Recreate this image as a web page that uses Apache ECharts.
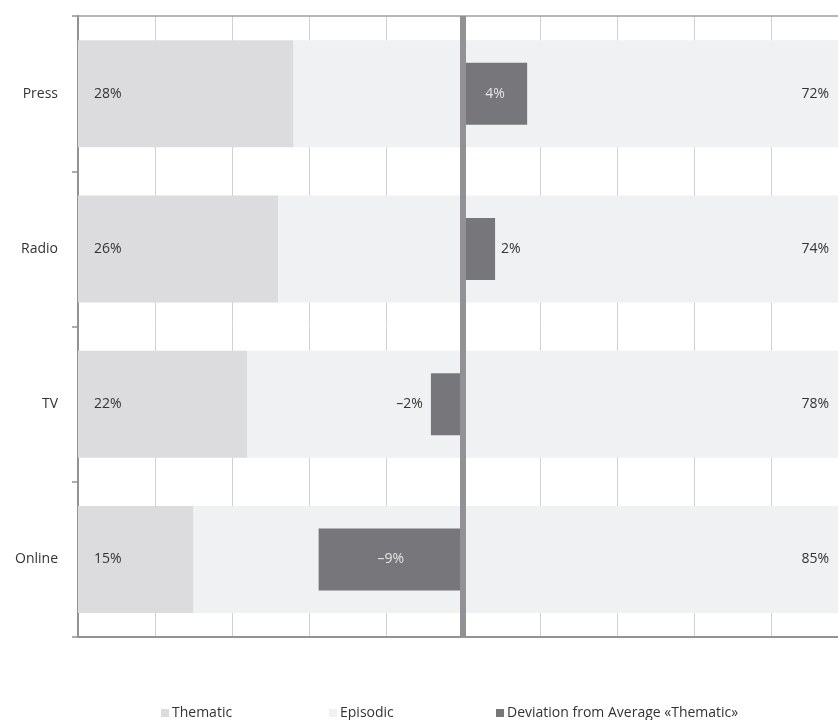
<!DOCTYPE html>
<html>
<head>
<meta charset="utf-8">
<title>Thematic vs. episodic framing by media type</title>
<script src="https://cdn.jsdelivr.net/npm/echarts@6/dist/echarts.min.js"></script>
<style>
  html, body { margin: 0; padding: 0; background: #ffffff; }
  #chart { width: 838px; height: 720px; }
</style>
</head>
<body>
<div id="chart"></div>
<script>
// Media types, top to bottom
const categories = ['Press', 'Radio', 'TV', 'Online'];
// Share of thematic and episodic framing (percent, sums to 100)
const thematic = [28, 26, 22, 15];
const episodic = [72, 74, 78, 85];
// Deviation of each medium's thematic share from the average (percentage points)
const deviation = [4, 2, -2, -9];
// Legend entries
const seriesNames = ['Thematic', 'Episodic', 'Deviation from Average \u00abThematic\u00bb'];

const FONT = '"Open Sans", "Noto Sans", sans-serif';
const TEXT = '#333333';
const AXIS = '#939396';
const C_THEM = '#dcdcde';
const C_EPIS = '#f0f1f3';
const C_DEV = '#77777b';

function pct(v) {
  return (v < 0 ? '\u2013' + Math.abs(v) : String(v)) + '%';
}

// Short deviation bars carry their label outside, long ones inside
const deviationData = deviation.map(function (v) {
  const inside = Math.abs(v) >= 4;
  return {
    value: v,
    label: inside
      ? { position: 'inside', color: '#e4e4e6' }
      : { position: v >= 0 ? 'right' : 'left', color: TEXT, distance: v >= 0 ? 6 : 8 }
  };
});

const chart = echarts.init(document.getElementById('chart'), null, { renderer: 'canvas' });

const legendText = { color: TEXT, fontSize: 14, fontFamily: FONT, lineHeight: 16, padding: [0, 0, 0, -2] };

chart.setOption({
  animation: false,
  backgroundColor: '#ffffff',
  textStyle: { fontFamily: FONT },
  // The 0-100 scale runs slightly past the right edge of the canvas
  grid: { left: 78, top: 16, width: 770, height: 621, containLabel: false, outerBoundsMode: 'none' },
  xAxis: [
    {
      type: 'value', min: 0, max: 100, interval: 10,
      axisLine: { show: true, onZero: false, lineStyle: { color: AXIS, width: 2 } },
      axisTick: { show: false },
      axisLabel: { show: false },
      splitLine: { show: true, lineStyle: { color: '#d2d2d4', width: 1 } }
    },
    {
      type: 'value', min: -24, max: 24, position: 'top',
      axisLine: { show: true, onZero: false, lineStyle: { color: '#a0a0a3', width: 1.5 } },
      axisTick: { show: false },
      axisLabel: { show: false },
      splitLine: { show: false }
    }
  ],
  yAxis: [
    {
      type: 'category', data: categories, inverse: true,
      axisLine: { show: true, lineStyle: { color: AXIS, width: 2 } },
      axisTick: { show: true, length: 6, lineStyle: { color: AXIS, width: 1.5 } },
      axisLabel: { color: TEXT, fontSize: 14, margin: 20, fontFamily: FONT }
    },
    {
      type: 'category', data: categories, inverse: true, show: false
    }
  ],
  legend: [
    {
      data: [seriesNames[0]], left: 161, top: 705, padding: 0,
      icon: 'rect', itemWidth: 8, itemHeight: 8, textStyle: legendText
    },
    {
      data: [seriesNames[1]], left: 329, top: 705, padding: 0,
      icon: 'rect', itemWidth: 8, itemHeight: 8, textStyle: legendText
    },
    {
      data: [seriesNames[2]], left: 496, top: 705, padding: 0,
      icon: 'rect', itemWidth: 8, itemHeight: 8, textStyle: legendText
    }
  ],
  series: [
    {
      name: seriesNames[0], type: 'bar', stack: 'share',
      xAxisIndex: 0, yAxisIndex: 0, barWidth: 107,
      itemStyle: { color: C_THEM },
      label: {
        show: true, position: 'insideLeft', distance: 16,
        color: TEXT, fontSize: 14, fontFamily: FONT,
        formatter: function (p) { return pct(p.value); }
      },
      data: thematic
    },
    {
      name: seriesNames[1], type: 'bar', stack: 'share',
      xAxisIndex: 0, yAxisIndex: 0, barWidth: 107,
      itemStyle: { color: C_EPIS },
      label: {
        show: true, position: 'insideRight', distance: 19,
        color: TEXT, fontSize: 14, fontFamily: FONT,
        formatter: function (p) { return pct(p.value); }
      },
      data: episodic
    },
    {
      name: seriesNames[2], type: 'bar',
      xAxisIndex: 1, yAxisIndex: 1, barWidth: 62,
      itemStyle: { color: C_DEV },
      z: 3,
      label: {
        show: true, fontSize: 14, fontFamily: FONT,
        formatter: function (p) { return pct(p.value); }
      },
      data: deviationData,
      markLine: {
        silent: true, symbol: 'none',
        label: { show: false },
        lineStyle: { color: '#929296', width: 6, type: 'solid' },
        data: [{ xAxis: 0 }]
      }
    }
  ]
});
</script>
</body>
</html>
